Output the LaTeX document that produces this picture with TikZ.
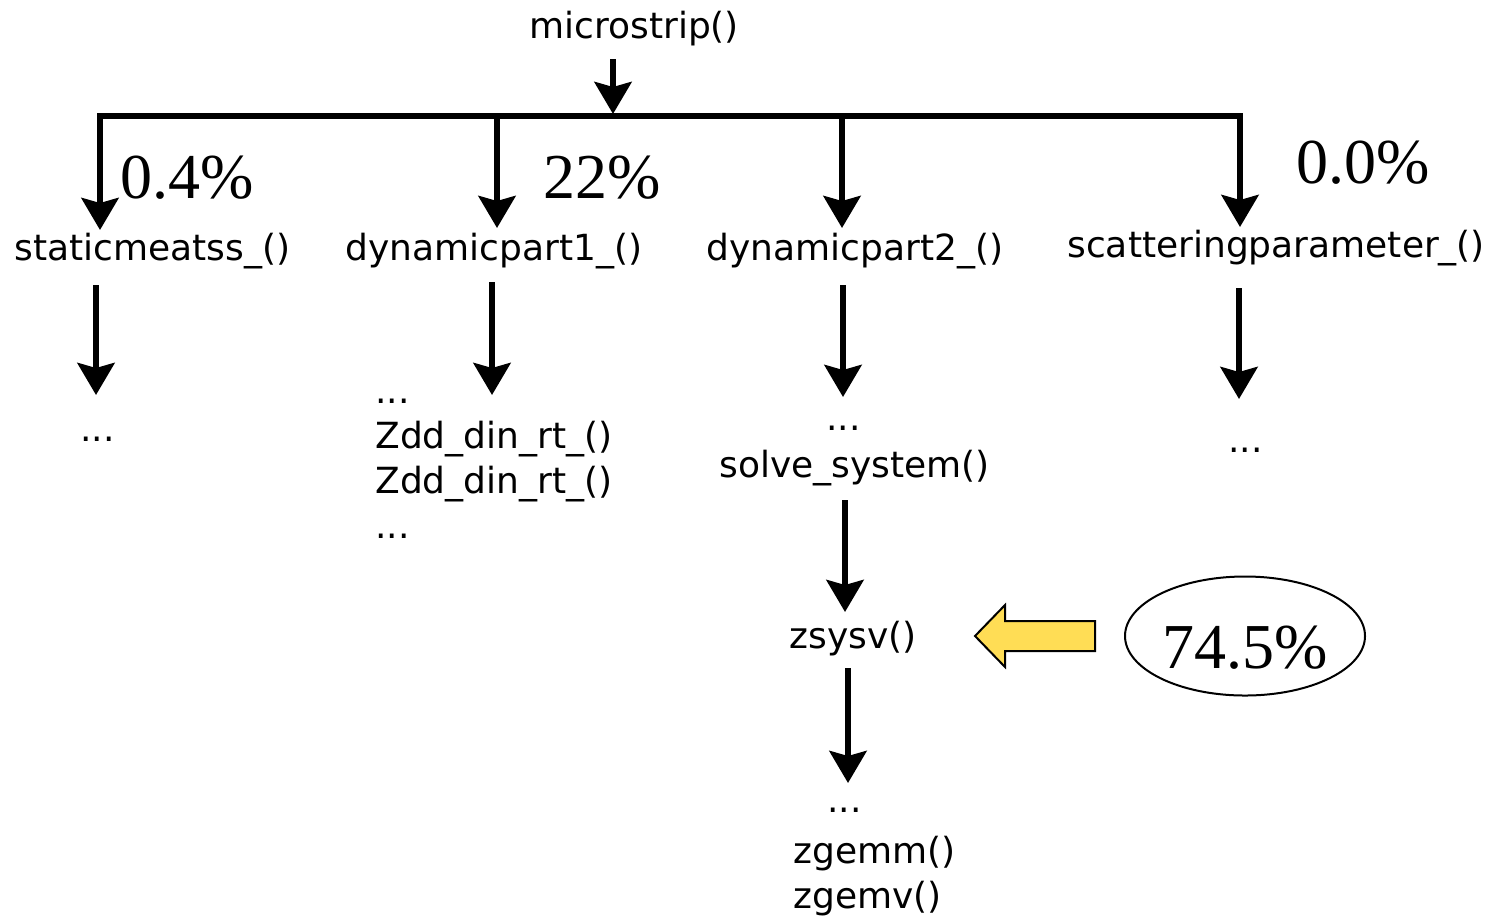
\documentclass[tikz,border=0pt]{standalone}
\usepackage{fontspec}
\setmainfont{DejaVu Sans}
\newfontfamily\pctfont{Liberation Serif}
\usetikzlibrary{arrows.meta,shapes.geometric}
\definecolor{arrowyellow}{RGB}{255,221,85}
\tikzset{
  lbl/.style={anchor=base west, inner sep=0pt, font=\fontsize{18pt}{20pt}\selectfont},
  pct/.style={anchor=base west, inner sep=0pt, font=\pctfont\fontsize{32pt}{36pt}\selectfont},
  arr/.style={line width=3pt, -{Stealth[length=16pt, width=18.5pt, inset=2.5pt]}},
  barline/.style={line width=3pt, line cap=rect},
}
\begin{document}
\begin{tikzpicture}[x=0.5pt, y=-0.5pt]
\useasboundingbox (0,0) rectangle (1497,917);
% text nodes
\node[lbl] (micro) at (529,38) {microstrip()};
\node[lbl] (static) at (14,260) {staticmeatss\_()};
\node[lbl] (dyn1) at (345,260) {dynamicpart1\_()};
\node[lbl] (dyn2) at (706,260) {dynamicpart2\_()};
\node[lbl] (scat) at (1067,257) {scatteringparameter\_()};
\node[lbl] (sdots) at (80,441) {...};
\node[lbl] (d1a) at (375,403) {...};
\node[lbl] (d1b) at (375,448) {Zdd\_din\_rt\_()};
\node[lbl] (d1c) at (375,493) {Zdd\_din\_rt\_()};
\node[lbl] (d1d) at (375,538) {...};
\node[lbl] (d2a) at (826,430) {...};
\node[lbl] (solve) at (719,477) {solve\_system()};
\node[lbl] (scdots) at (1228,452) {...};
\node[lbl] (zsysv) at (789,648) {zsysv()};
\node[lbl] (zdots) at (827,812) {...};
\node[lbl] (zgemm) at (793,863) {zgemm()};
\node[lbl] (zgemv) at (793,908) {zgemv()};
% percentages
\node[pct] (p1) at (120,198) {0.4\%};
\node[pct] (p2) at (543,198) {22\%};
\node[pct] (p4) at (1296,183) {0.0\%};
\node[draw, ellipse, line width=1pt, minimum width=120pt, minimum height=59.5pt, inner sep=0pt] (ell) at (1245,636) {};
\node[pct] (p3) at (1162,668) {74.5\%};
% coordinates
\coordinate (mtop) at (613,59);
\coordinate (mtip) at (613,114);
\coordinate (bl) at (100,116);
\coordinate (br) at (1240,116);
\coordinate (b1) at (100,116);
\coordinate (b2) at (497,116);
\coordinate (b3) at (842,116);
\coordinate (b4) at (1240,116);
\coordinate (t1) at (100,230);
\coordinate (t2) at (497,228);
\coordinate (t3) at (842,228);
\coordinate (t4) at (1240,227);
\coordinate (s1) at (96,285);   \coordinate (e1) at (96,395);
\coordinate (s2) at (492,282);  \coordinate (e2) at (492,395);
\coordinate (s3) at (843,285);  \coordinate (e3) at (843,397);
\coordinate (s4) at (1239,288); \coordinate (e4) at (1239,399);
\coordinate (s5) at (845,500);  \coordinate (e5) at (845,612);
\coordinate (s6) at (848,668);  \coordinate (e6) at (848,783);
% connectors
\draw[arr] (mtop) -- (mtip);
\draw[barline] (bl) -- (br);
\draw[arr] (b1) -- (t1);
\draw[arr] (b2) -- (t2);
\draw[arr] (b3) -- (t3);
\draw[arr] (b4) -- (t4);
\draw[arr] (s1) -- (e1);
\draw[arr] (s2) -- (e2);
\draw[arr] (s3) -- (e3);
\draw[arr] (s4) -- (e4);
\draw[arr] (s5) -- (e5);
\draw[arr] (s6) -- (e6);
% yellow block arrow
\draw[fill=arrowyellow, line width=1pt, line join=miter]
  (975,636) -- (1005,605) -- (1005,621) -- (1095,621) -- (1095,651)
  -- (1005,651) -- (1005,667) -- cycle;
\end{tikzpicture}
\end{document}
